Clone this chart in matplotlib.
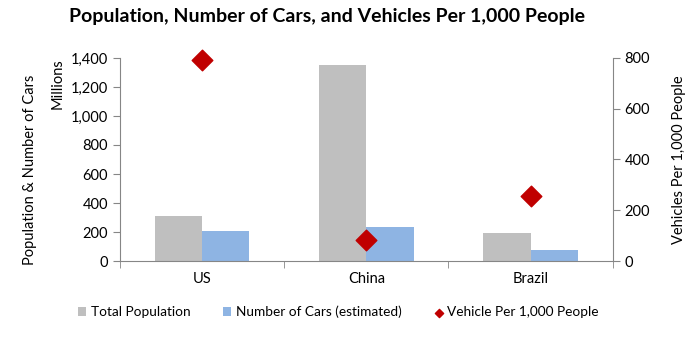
import matplotlib.pyplot as plt
import numpy as np

countries = ["US", "China", "Brazil"]
population = [311, 1353, 196]       # millions
cars = [207, 235, 76]               # millions (estimated)
per_1000 = [793, 83, 258]           # vehicles per 1,000 people

plt.rcParams['font.family'] = ['Lato', 'DejaVu Sans']
axis_col = '#868686'

fig = plt.figure(figsize=(6.95, 3.39), dpi=100)
ax = fig.add_axes([0.1727, 0.230, 0.7089, 0.599])
ax2 = ax.twinx()

x = np.arange(len(countries))
w = 0.287
ax.bar(x - w / 2, population, w, color='#BFBFBF', label="Total Population")
ax.bar(x + w / 2, cars, w, color='#8EB4E3', label="Number of Cars (estimated)")
ax2.scatter(x, per_1000, marker='D', s=110, color='#C00000', zorder=3,
            clip_on=False, label="Vehicle Per 1,000 People")

ax.set_xlim(-0.5, 2.5)
ax.set_ylim(0, 1400)
ax2.set_ylim(0, 800)
ax.set_yticks(range(0, 1401, 200))
ax.set_yticklabels([f"{v:,}" for v in range(0, 1401, 200)])
ax2.set_yticks(range(0, 801, 200))
ax.set_xticks(x)
ax.set_xticklabels(countries)
ax.set_xticks([-0.5, 0.5, 1.5, 2.5], minor=True)
ax.tick_params(axis='x', which='major', length=0, pad=8)
ax.tick_params(axis='x', which='minor', length=5, color=axis_col)
ax.tick_params(axis='y', length=5, color=axis_col, labelsize=10.5)
ax2.tick_params(axis='y', length=5, color=axis_col, labelsize=10.5)
ax.tick_params(axis='x', labelsize=10.5)

for a in (ax, ax2):
    a.spines['top'].set_visible(False)
    for s in ('left', 'right', 'bottom'):
        a.spines[s].set_color(axis_col)
ax2.spines['left'].set_visible(False)
ax2.spines['bottom'].set_visible(False)
ax.spines['right'].set_visible(False)

ax.set_ylabel("Population & Number of Cars", fontsize=10.5)
ax.yaxis.set_label_coords(-0.168, 0.45)
fig.text(0.083, 0.829, "Millions", rotation=90, fontsize=10.5, ha='center', va='top')
ax2.set_ylabel("Vehicles Per 1,000 People", fontsize=10.5, labelpad=16)

fig.suptitle("Population, Number of Cars, and Vehicles Per 1,000 People",
             x=0.47, y=0.975, fontsize=14, fontweight='bold')

h1, l1 = ax.get_legend_handles_labels()
h2, l2 = ax2.get_legend_handles_labels()
fig.legend(h1 + h2, l1 + l2, loc='center', bbox_to_anchor=(0.487, 0.079), ncol=3,
           frameon=False, fontsize=9.8, handlelength=0.6, handleheight=0.6,
           columnspacing=2.4, handletextpad=0.35, markerscale=0.4)

fig.savefig("out.png", dpi=100)
